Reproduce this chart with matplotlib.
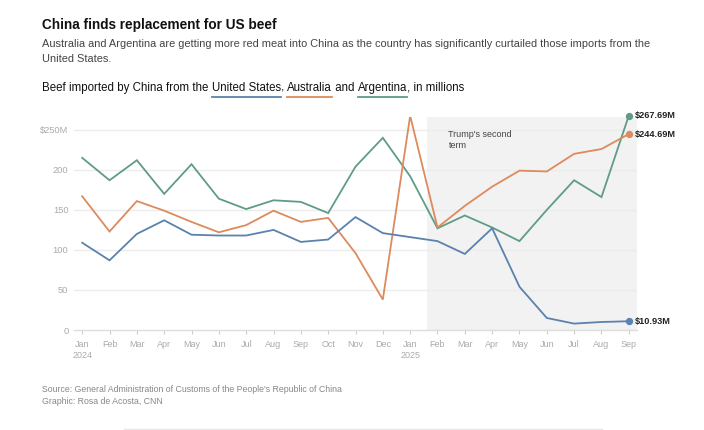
import matplotlib
matplotlib.use("Agg")
import matplotlib.pyplot as plt
import numpy as np

months = ["Jan\n2024", "Feb", "Mar", "Apr", "May", "Jun", "Jul", "Aug", "Sep", "Oct",
          "Nov", "Dec", "Jan\n2025", "Feb", "Mar", "Apr", "May", "Jun", "Jul", "Aug", "Sep"]
us = [109, 87, 120, 137, 119, 118, 118, 125, 110, 113, 141, 121, 116,
      111, 95, 127, 54, 15, 8, 10, 10.93]
australia = [167, 123, 161, 149, 135, 122, 131, 149, 135, 140, 96, 38, 267.5,
             128, 155, 179, 199, 198, 220, 226, 244.69]
argentina = [215, 187, 212, 170, 207, 164, 151, 162, 160, 146, 204, 240, 192,
             127, 143, 128, 111, 150, 187, 166, 267.69]
ytick_vals = [0, 50, 100, 150, 200, 250]
ytick_labels = ["0", "50", "100", "150", "200", "$250M"]
end_labels = ["$10.93M", "$244.69M", "$267.69M"]

C_US = "#5a82ad"
C_AU = "#dd8a5c"
C_AR = "#5f9c86"

W, H = 704, 430
FONT = "Liberation Sans"
plt.rcParams["font.family"] = [FONT, "DejaVu Sans"]

fig = plt.figure(figsize=(W / 100, H / 100), dpi=100)
fig.patch.set_facecolor("white")

def px(x, y):
    return x / W, 1 - y / H

ax = fig.add_axes([74 / W, 1 - 330 / H, (637 - 74) / W, (330 - 117) / H])
x = np.arange(len(months))
ax.set_xlim(-0.3, 20.3)
ax.set_ylim(0, 266)

ax.axvspan(12.62, 20.3, color="#f2f2f2", zorder=0, lw=0)
for v in ytick_vals[1:]:
    ax.axhline(v, color="#ececec", lw=1, zorder=1)

ax.plot(x, argentina, color=C_AR, lw=1.3, zorder=3, solid_joinstyle="miter")
ax.plot(x, australia, color=C_AU, lw=1.3, zorder=3, solid_joinstyle="miter")
ax.plot(x, us, color=C_US, lw=1.3, zorder=4, solid_joinstyle="miter")

for series, col, lab in [(us, C_US, end_labels[0]), (australia, C_AU, end_labels[1]),
                         (argentina, C_AR, end_labels[2])]:
    ax.scatter([x[-1]], [series[-1]], s=18, color=col, zorder=5, clip_on=False)
    ax.annotate(lab, (x[-1], series[-1]), xytext=(4.5, 0), textcoords="offset points",
                va="center", ha="left", fontsize=6.6, fontweight="bold", color="#222222",
                annotation_clip=False)

ax.text(13.4, 250, "Trump's second\nterm", fontsize=6.5, color="#444444", va="top",
        ha="left", linespacing=1.3)

for s in ["top", "right", "left"]:
    ax.spines[s].set_visible(False)
ax.spines["bottom"].set_color("#dddddd")
ax.spines["bottom"].set_linewidth(1)

ax.set_xticks(x)
ax.set_xticklabels(months, fontsize=6.5, color="#aaaaaa", linespacing=1.3)
ax.tick_params(axis="x", length=3, color="#cccccc", pad=4)
ax.set_yticks(ytick_vals)
ax.set_yticklabels(ytick_labels, fontsize=6.7, color="#aaaaaa")
ax.tick_params(axis="y", length=0, pad=4)

# Header texts
fig.text(*px(42, 25), "China finds replacement for US beef", fontsize=9.8,
         fontweight="bold", color="#111111", va="center", ha="left")
fig.text(*px(42, 44), "Australia and Argentina are getting more red meat into China as the country has significantly curtailed those imports from the",
         fontsize=7.95, color="#444444", va="center", ha="left")
fig.text(*px(42, 59), "United States.", fontsize=7.95, color="#444444", va="center", ha="left")

# Chart subtitle with colored underlines
renderer = fig.canvas.get_renderer()
parts = [("Beef imported by China from the ", None), ("United States", C_US), (", ", None),
         ("Australia", C_AU), (" and ", None), ("Argentina", C_AR), (", in millions", None)]
cur = 42
ybase = 88
for txt, col in parts:
    t = fig.text(*px(cur, ybase), txt, fontsize=8.3, fontweight="medium", color="#111111",
                 va="center", ha="left")
    bb = t.get_window_extent(renderer=renderer)
    if col is not None:
        fig.add_artist(plt.Line2D([cur / W, (cur + bb.width) / W],
                                  [1 - 96.5 / H, 1 - 96.5 / H], color=col, lw=1.3,
                                  transform=fig.transFigure))
    cur += bb.width

fig.text(*px(42, 389), "Source: General Administration of Customs of the People's Republic of China",
         fontsize=6.3, color="#888888", va="center", ha="left")
fig.text(*px(42, 402), "Graphic: Rosa de Acosta, CNN", fontsize=6.3, color="#888888",
         va="center", ha="left")
fig.add_artist(plt.Line2D([124 / W, 602 / W], [1 - 429 / H, 1 - 429 / H], color="#e6e6e6",
                          lw=1, transform=fig.transFigure))

fig.savefig("out.png", dpi=100)
